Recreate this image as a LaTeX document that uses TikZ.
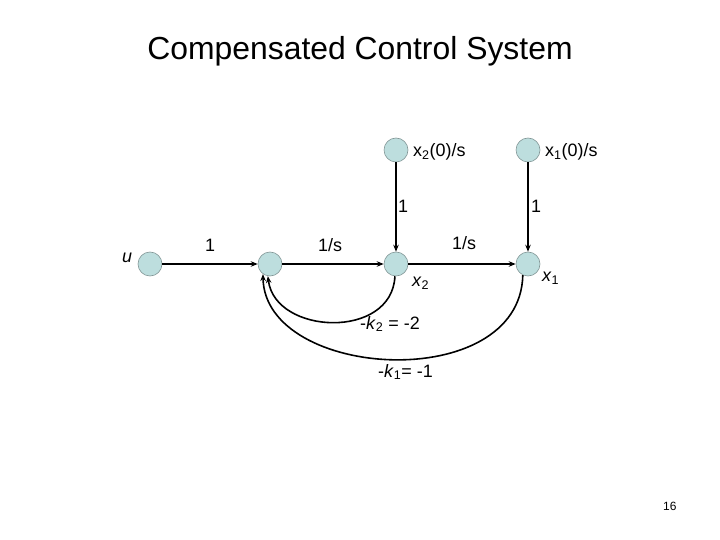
\documentclass[tikz,border=0pt]{standalone}
\usepackage{fontspec}
\setmainfont{Liberation Sans}
\usetikzlibrary{arrows.meta}
\definecolor{nodefill}{RGB}{189,222,222}
\definecolor{nodeedge}{RGB}{130,150,150}
\begin{document}
\begin{tikzpicture}[x=1bp,y=-1bp,
  sgnode/.style={circle,fill=nodefill,draw=nodeedge,line width=0.6pt,minimum size=24bp,inner sep=0pt},
  lbl/.style={inner sep=0pt,anchor=base west,font=\fontsize{18}{21}\selectfont},
  branch/.style={line width=1.6pt,-{Stealth[length=7pt,width=5.5pt]}}]
\useasboundingbox (0,0) rectangle (720,540);
\node[inner sep=0pt,anchor=base,font=\fontsize{32}{38}\selectfont] (title) at (360,60) {Compensated Control System};
\node[sgnode] (u) at (150,264) {};
\node[sgnode] (e) at (270,264) {};
\node[sgnode] (x2) at (396,264) {};
\node[sgnode] (x1) at (528,264) {};
\node[sgnode] (x2i) at (396,150) {};
\node[sgnode] (x1i) at (528,150) {};
\draw[branch] (u) -- (e);
\draw[branch] (e) -- (x2);
\draw[branch] (x2) -- (x1);
\draw[branch] (x2i) -- (x2);
\draw[branch] (x1i) -- (x1);
\draw[branch] (x2.-95) .. controls (392,340) and (275,335) .. (e.-100);
\draw[branch] (x1.-115) .. controls (520,395) and (265,380) .. (e.-125);
\node[lbl] (lu) at (122,263) {\textit{u}};
\node[lbl] (l1) at (205,252) {1};
\node[lbl] (l2) at (318,252) {1/s};
\node[lbl] (l3) at (452,250) {1/s};
\node[lbl] (l4) at (398,213) {1};
\node[lbl] (l5) at (531,213) {1};
\node[lbl] (l6) at (413,157) {x\textsubscript{2}(0)/s};
\node[lbl] (l7) at (545,157) {x\textsubscript{1}(0)/s};
\node[lbl] (l8) at (412,287) {\textit{x}\textsubscript{2}};
\node[lbl] (l9) at (542,282) {\textit{x}\textsubscript{1}};
\node[lbl] (l10) at (360,329) {-\textit{k}\textsubscript{2} = -2};
\node[lbl] (l11) at (378,377) {-\textit{k}\textsubscript{1}= -1};
\node[inner sep=0pt,anchor=base west,font=\fontsize{12}{14}\selectfont] (pg) at (663,510) {16};
\end{tikzpicture}
\end{document}
